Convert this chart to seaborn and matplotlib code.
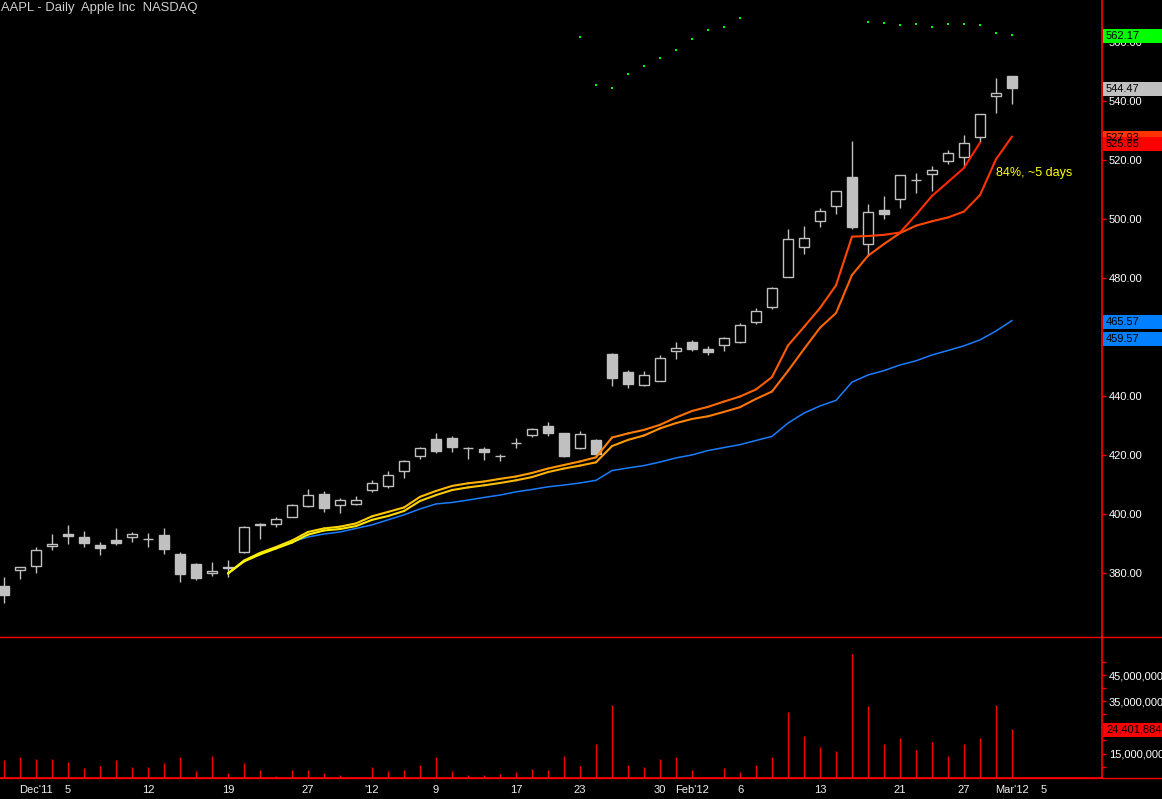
import numpy as np
import pandas as pd
import matplotlib
matplotlib.use('Agg')
import matplotlib.pyplot as plt
import matplotlib.transforms as mtransforms
import seaborn as sns
from matplotlib.collections import LineCollection
from matplotlib.colors import LinearSegmentedColormap
from matplotlib.patches import Rectangle
from matplotlib.ticker import FixedLocator, FuncFormatter

# AAPL daily, Nov 29 2011 .. Mar 1 2012
opens = [375.6, 380.9, 382.3, 389.3, 393.2, 392.2, 389.5, 391.2, 392.2, 391.4,
         392.9, 386.4, 383.1, 379.9, 381.7, 387.2, 396.4, 396.5, 399.1, 402.6,
         406.8, 402.9, 403.3, 408.2, 409.6, 414.5, 419.6, 425.4, 425.8, 422.3,
         422.0, 419.6, 424.0, 426.7, 429.7, 427.4, 422.3, 425.0, 454.2, 448.1,
         443.8, 445.2, 455.4, 458.2, 455.8, 457.2, 458.2, 465.0, 470.3, 480.4,
         490.6, 499.4, 504.5, 514.2, 491.4, 502.9, 506.7, 513.1, 515.2, 519.6,
         521.1, 527.9, 541.6, 548.5]
highs = [378.5, 382.1, 388.7, 393.2, 396.3, 394.2, 390.5, 395.3, 393.9, 393.6,
         395.3, 387.1, 383.4, 383.7, 384.4, 395.9, 396.9, 399.0, 403.3, 408.5,
         407.8, 405.4, 406.1, 411.5, 414.6, 418.2, 422.7, 427.5, 426.3, 422.7,
         422.7, 420.3, 425.8, 429.0, 431.1, 427.6, 428.0, 425.3, 454.5, 448.8,
         448.5, 453.9, 458.2, 458.9, 456.8, 460.0, 464.6, 469.7, 476.8, 496.6,
         497.6, 503.7, 509.6, 526.4, 505.1, 507.8, 514.9, 515.5, 518.0, 523.2,
         528.5, 535.6, 547.7, 548.5]
lows = [369.7, 377.9, 380.1, 387.8, 389.8, 388.8, 386.1, 389.5, 390.5, 388.8,
        386.4, 376.9, 377.6, 379.0, 378.6, 386.9, 391.6, 395.7, 399.0, 402.5,
        400.8, 400.2, 403.2, 407.5, 408.9, 412.3, 418.7, 420.7, 421.0, 418.6,
        418.3, 418.0, 422.4, 426.0, 426.3, 419.4, 421.9, 419.8, 443.5, 442.8,
        443.5, 445.1, 452.6, 455.4, 453.8, 455.4, 457.9, 464.3, 469.5, 480.2,
        488.1, 497.1, 501.8, 496.7, 487.6, 500.1, 503.8, 508.9, 509.3, 518.5,
        517.5, 526.2, 535.8, 538.9]
closes = [372.6, 381.9, 387.7, 389.7, 392.5, 390.2, 388.5, 390.2, 393.2, 391.6,
          388.1, 379.7, 378.3, 380.7, 382.1, 395.5, 396.6, 398.2, 402.9, 406.4,
          402.1, 404.6, 404.6, 410.5, 413.2, 417.9, 422.3, 421.4, 422.7, 422.5,
          421.0, 419.8, 424.2, 428.7, 427.4, 419.8, 427.0, 420.2, 446.2, 444.2,
          447.0, 452.8, 456.2, 455.8, 454.8, 459.6, 464.0, 468.7, 476.5, 493.1,
          493.5, 502.6, 509.4, 497.4, 502.3, 501.8, 514.8, 513.3, 516.5, 522.3,
          525.7, 535.5, 542.6, 544.47]
# volume in millions of shares
volume_m = [12.7, 13.8, 13.1, 13.1, 11.9, 9.6, 10.4, 12.7, 10.0, 10.0,
            11.5, 13.8, 8.5, 14.2, 7.7, 11.5, 8.8, 6.5, 8.8, 8.8,
            7.7, 6.9, 6.2, 10.0, 8.5, 8.8, 10.8, 13.5, 8.5, 6.9,
            6.9, 7.3, 8.1, 9.2, 8.8, 14.2, 10.4, 18.8, 33.5, 10.8,
            10.0, 13.1, 13.5, 8.8, 6.2, 9.6, 8.1, 10.8, 13.8, 30.8,
            21.9, 17.7, 15.8, 53.1, 33.1, 18.5, 20.8, 16.5, 19.6, 14.2,
            18.8, 20.8, 33.5, 24.401884]

# indicator lines, starting at bar 14 (Dec 19)
line_start = 14
upper_line = [379.9, 384.2, 386.8, 388.8, 391.0, 393.9, 395.1, 395.7, 396.8, 399.2,
              400.7, 402.2, 405.8, 407.8, 409.5, 410.4, 411.0, 411.9, 412.7, 413.9,
              415.4, 416.6, 417.8, 419.2, 425.9, 427.3, 428.5, 430.2, 432.7, 434.9,
              436.3, 438.1, 439.8, 442.2, 446.4, 457.1, 463.4, 469.8, 477.5, 494.0,
              494.2, 494.6, 495.4, 501.4, 507.8, 512.5, 517.3, 525.85, None, None]
lower_line = [379.8, 383.9, 386.3, 388.3, 390.3, 393.0, 394.4, 394.9, 395.9, 398.0,
              399.3, 401.0, 404.4, 406.4, 408.1, 409.0, 409.7, 410.5, 411.4, 412.5,
              414.2, 415.4, 416.4, 417.5, 423.0, 425.1, 426.6, 429.0, 430.8, 432.2,
              433.1, 434.6, 436.2, 439.0, 441.5, 448.5, 455.9, 463.1, 468.1, 481.0,
              487.5, 491.5, 495.2, 497.7, 499.2, 500.5, 502.5, 508.1, 520.2, 527.93]
blue_line = [379.9, 384.1, 386.4, 388.6, 390.5, 392.2, 393.2, 393.9, 395.1, 396.3,
             398.0, 399.7, 401.7, 403.4, 403.9, 404.7, 405.6, 406.4, 407.5, 408.3,
             409.2, 409.8, 410.5, 411.4, 414.7, 415.6, 416.4, 417.6, 419.0, 420.0,
             421.5, 422.5, 423.5, 424.9, 426.3, 430.8, 434.2, 436.6, 438.5, 444.7,
             447.1, 448.6, 450.5, 451.9, 453.9, 455.4, 457.0, 459.0, 462.0, 465.57]

# green dots from bar 36 (Jan 23); None = above the visible range
dots_start = 36
dots = [561.6, 545.3, 544.3, 549.1, 551.8, 554.5, 557.2, 560.9, 564.0, 565.0,
        568.0, None, None, None, None, None, None, None, 566.7, 566.3,
        565.7, 566.0, 565.0, 566.0, 566.0, 565.7, 562.9, 562.17]

# right-hand value flags: (value, text, box colour)
price_flags = [(562.17, '562.17', '#00ff00'), (544.47, '544.47', '#c0c0c0'),
               (527.93, '527.93', '#ff3300'), (525.85, '525.85', '#ff0000'),
               (465.57, '465.57', '#0080ff'), (459.57, '459.57', '#0080ff')]
volume_flag = (24.401884, '24,401,884', '#ff0000')

tick_dates = ['2011-12-01', '2011-12-05', '2011-12-12', '2011-12-19', '2011-12-27',
              '2012-01-03', '2012-01-09', '2012-01-17', '2012-01-23', '2012-01-30',
              '2012-02-01', '2012-02-06', '2012-02-13', '2012-02-21', '2012-02-27',
              '2012-03-01', '2012-03-05']
tick_labels = ["Dec'11", '5', '12', '19', '27', "'12", '9', '17', '23', '30',
               "Feb'12", '6', '13', '21', '27', "Mar'12", '5']
month_dates = ['2011-12-01', '2012-01-03', '2012-02-01', '2012-03-01']

holidays = ['2011-12-26', '2012-01-02', '2012-01-16', '2012-02-20']
cal = pd.bdate_range('2011-11-29', '2012-03-16')
cal = cal[~cal.isin(pd.to_datetime(holidays))]
pos = {d.strftime('%Y-%m-%d'): i for i, d in enumerate(cal)}

n = len(closes)
df = pd.DataFrame({'x': np.arange(n), 'open': opens, 'high': highs,
                   'low': lows, 'close': closes,
                   'volume': np.array(volume_m) * 1e6})

def pad_series(values, start):
    out = [np.nan] * start + [np.nan if v is None else v for v in values]
    return np.array(out, dtype=float)

df['upper'] = pad_series(upper_line, line_start)
df['lower'] = pad_series(lower_line, line_start)
df['blue'] = pad_series(blue_line, line_start)
df['dots'] = pad_series(dots, dots_start)

sns.set_theme(style='dark', rc={'axes.facecolor': 'black',
                                'figure.facecolor': 'black',
                                'axes.grid': False})
plt.rcParams['font.family'] = ['Liberation Sans', 'DejaVu Sans']

W, H = 1162, 799
fig = plt.figure(figsize=(W / 100, H / 100), dpi=100)
ax = fig.add_axes([0, 1 - 637 / H, 1102 / W, 637 / H])
axv = fig.add_axes([0, 1 - 778 / H, 1102 / W, 141 / H], sharex=ax)

grey = '#c0c0c0'
red = '#ff0000'

# candles
ax.vlines(df.x, df.low, df.high, color=grey, lw=1.0, zorder=2)
for r in df.itertuples():
    up = r.close >= r.open
    bottom = min(r.open, r.close)
    height = max(abs(r.close - r.open), 0.05)
    ax.add_patch(Rectangle((r.x - 0.3, bottom), 0.6, height,
                           facecolor='black' if up else grey,
                           edgecolor=grey, lw=1.0, zorder=3))

# colour-shifting indicator pair
heat = LinearSegmentedColormap.from_list(
    'heat', ['#ffff00', '#ffd400', '#ffaa00', '#ff7a00', '#ff5500', '#ff2200'])

def gradient_line(col, shift):
    sub = df[['x', col]].dropna()
    pts = sub.to_numpy()
    segs = np.stack([pts[:-1], pts[1:]], axis=1)
    t = np.clip((pts[:-1, 0] - line_start) / (n - 1 - line_start) + shift, 0, 1)
    lc = LineCollection(segs, colors=heat(t), linewidths=1.5,
                        capstyle='round', joinstyle='round', zorder=5)
    ax.add_collection(lc)

gradient_line('lower', -0.03)
gradient_line('upper', 0.07)
sns.lineplot(data=df, x='x', y='blue', ax=ax, color='#1a7dff', lw=1.1,
             zorder=4, legend=False)
sns.scatterplot(data=df, x='x', y='dots', ax=ax, color='#00ff00', marker='s',
                s=3, linewidth=0, zorder=6, legend=False)

ax.text(62, 515.6, '84%, ~5 days', color='#ffff00', fontsize=9,
        va='center', ha='left', zorder=7)
ax.text(0.001, 0.997, 'AAPL - Daily  Apple Inc  NASDAQ', transform=ax.transAxes,
        color='#cfcfcf', fontsize=9.4, va='top', ha='left')

# volume
axv.vlines(df.x, 0, df.volume, color=red, lw=1.0)

ax.set_xlim(-0.25, 68.625)
ax.set_ylim(358.3, 574.2)
axv.set_ylim(5.65e6, 59.6e6)

for a in (ax, axv):
    a.set_xlabel('')
    a.set_ylabel('')
    a.yaxis.tick_right()
    for s in ('left', 'top', 'bottom'):
        a.spines[s].set_visible(False)
    a.spines['right'].set_color(red)
    a.spines['right'].set_linewidth(1.2)
    a.tick_params(axis='y', which='both', colors=red, labelcolor='white',
                  labelsize=8, length=3, width=1, direction='out', pad=2)

ax.yaxis.set_major_locator(FixedLocator(np.arange(380, 561, 20)))
ax.yaxis.set_major_formatter(FuncFormatter(lambda v, p: f'{v:.2f}'))
ax.tick_params(axis='x', which='both', bottom=False, labelbottom=False)

axv.yaxis.set_major_locator(FixedLocator([15e6, 25e6, 35e6, 45e6]))
axv.yaxis.set_minor_locator(FixedLocator([10e6, 20e6, 30e6, 40e6, 50e6]))
axv.yaxis.set_major_formatter(FuncFormatter(lambda v, p: f'{v:,.0f}'))
axv.spines['bottom'].set_visible(True)
axv.spines['bottom'].set_color(red)
axv.spines['bottom'].set_linewidth(1.2)

axv.xaxis.remove_overlapping_locs = False
axv.xaxis.set_major_locator(FixedLocator([pos[d] for d in tick_dates]))
axv.xaxis.set_minor_locator(FixedLocator([pos[d] for d in month_dates]))
axv.set_xticklabels(tick_labels)
axv.tick_params(axis='x', which='major', colors=red, labelcolor='#eeeeee',
                labelsize=8, length=3, width=1, direction='out', pad=2)
axv.tick_params(axis='x', which='minor', colors=red, length=7, width=1,
                direction='out')

# full-width rules
for yy in (637, 778):
    fig.add_artist(plt.Line2D([0, 1], [1 - yy / H, 1 - yy / H],
                              transform=fig.transFigure, color=red, lw=1.0))

def flag(a, value, text, colour, shift_px=1.0):
    bb = a.get_window_extent()
    lo, hi = a.get_ylim()
    upp = (hi - lo) / bb.height
    half = 7 * upp
    yc = value - shift_px * upp
    trans = mtransforms.blended_transform_factory(fig.transFigure, a.transData)
    fig.add_artist(Rectangle((1103 / W, yc - half), 1 - 1103 / W, 2 * half,
                             transform=trans, facecolor=colour,
                             edgecolor='none', zorder=10))
    fig.text(1106 / W, 0, text, transform=trans, fontsize=8, color='black',
             va='center', ha='left', zorder=11).set_y(yc)

for value, text, colour in price_flags:
    flag(ax, value, text, colour)
flag(axv, volume_flag[0] * 1e6, volume_flag[1], volume_flag[2])

fig.savefig('out.png', dpi=100, facecolor='black')
